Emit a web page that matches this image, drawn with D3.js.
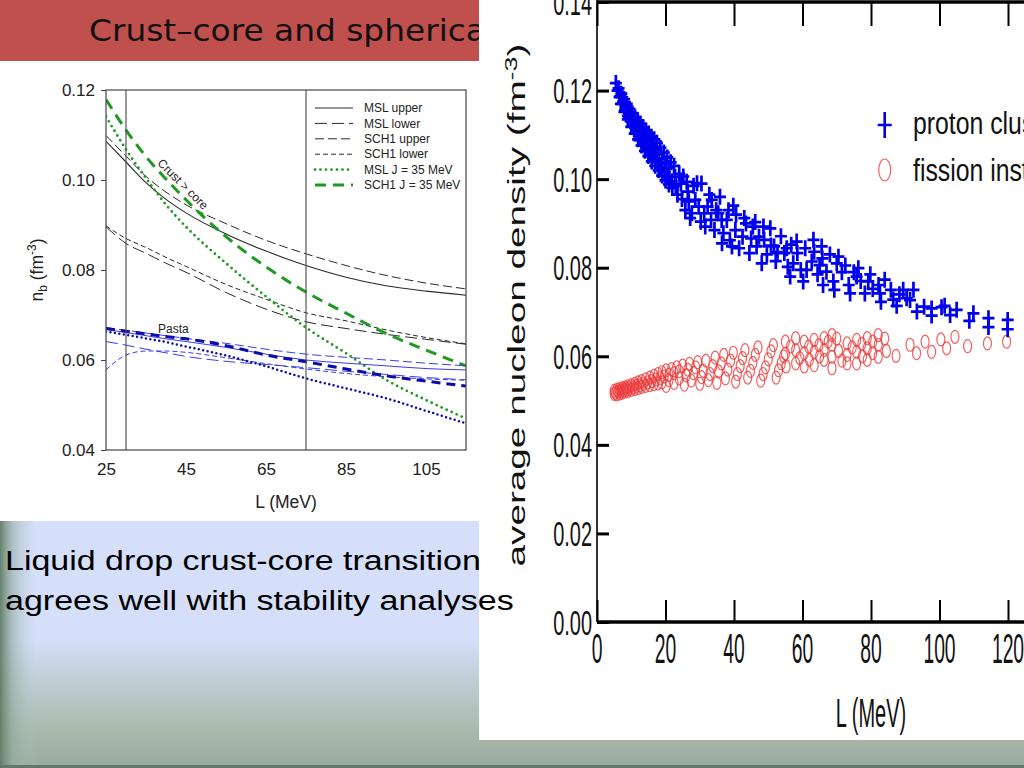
<!DOCTYPE html>
<html><head><meta charset="utf-8">
<script src="https://cdn.jsdelivr.net/npm/d3@7"></script>
<style>html,body{margin:0;padding:0;background:#fff;overflow:hidden}</style>
</head><body>
<svg id="s" width="1024" height="768"></svg>
<script>
// ---------------- DATA ----------------
const titleText = "Crust–core and spherical";
const bodyLines = ["Liquid drop crust-core transition", "agrees well with stability analyses"];

// left chart: n_b vs L
const leftL = [25,30,35,40,45,55,65,75,85,95,105,115];
const mslUpper  = [0.1086,0.1040,0.0994,0.0957,0.0927,0.0880,0.0842,0.0810,0.0784,0.0765,0.0753,0.0744];
const mslLower  = [0.0896,0.0859,0.0837,0.0815,0.0795,0.0750,0.0713,0.0685,0.0670,0.0657,0.0646,0.0635];
const sch1Upper = [0.1099,0.1053,0.1008,0.0973,0.0945,0.0903,0.0866,0.0836,0.0810,0.0788,0.0771,0.0758];
const sch1Lower = [0.0898,0.0870,0.0850,0.0828,0.0808,0.0768,0.0735,0.0705,0.0687,0.0667,0.0650,0.0636];
const mslJ35    = [0.1141,0.1068,0.1004,0.0945,0.0896,0.0815,0.0741,0.0672,0.0615,0.0556,0.0511,0.0470];
const sch1J35   = [0.1179,0.1111,0.1052,0.1002,0.0956,0.0874,0.0807,0.0751,0.0704,0.0659,0.0622,0.0587];
// pasta transition curves
const pastaMslUpper  = [0.0668,0.0661,0.0654,0.0647,0.0641,0.0628,0.0613,0.0600,0.0593,0.0587,0.0581,0.0578];
const pastaSch1Upper = [0.0672,0.0666,0.0660,0.0654,0.0648,0.0637,0.0624,0.0613,0.0606,0.0600,0.0593,0.0587];
const pastaMslLower  = [0.0641,0.0633,0.0624,0.0616,0.0608,0.0597,0.0590,0.0583,0.0575,0.0568,0.0561,0.0556];
const pastaSch1Lower = [0.0578,0.0611,0.0620,0.0620,0.0617,0.0605,0.0592,0.0580,0.0570,0.0563,0.0558,0.0555];
const pastaMslJ35    = [0.0663,0.0656,0.0648,0.0640,0.0630,0.0610,0.0586,0.0559,0.0537,0.0515,0.0487,0.0459];
const pastaSch1J35   = [0.0670,0.0664,0.0658,0.0652,0.0647,0.0632,0.0611,0.0596,0.0580,0.0565,0.0553,0.0542];
const transitionL = [30, 75];
const leftXTicks = [25,45,65,85,105];
const leftYTicks = [0.04,0.06,0.08,0.10,0.12];
const legendLabels = ["MSL upper","MSL lower","SCH1 upper","SCH1 lower","MSL J = 35 MeV","SCH1 J = 35 MeV"];

// right chart: average nucleon density vs L
const protonClusters = [
 [5.5,0.1217],[6.3,0.1205],[7.1,0.1193],[7.9,0.1181],[8.7,0.1170],[9.5,0.1159],[10.3,0.1149],[11.1,0.1140],[11.9,0.1133],[12.7,0.1125],[13.5,0.1117],[14.3,0.1110],[15.1,0.1103],[15.9,0.1096],[16.7,0.1090],[17.5,0.1082],[18.5,0.1071],[19.5,0.1060],[20.5,0.1049],[21.5,0.1038],
 [6.0,0.1200],[6.8,0.1187],[7.6,0.1175],[8.4,0.1163],[9.2,0.1151],[10.0,0.1140],[10.8,0.1130],[11.6,0.1120],[12.4,0.1112],[13.2,0.1103],[14.0,0.1095],[14.8,0.1088],[15.6,0.1080],[16.4,0.1073],[17.2,0.1066],[18.0,0.1058],[19.0,0.1047],[20.0,0.1036],[21.0,0.1025],
 [6.6,0.1185],[7.4,0.1170],[8.2,0.1156],[9.0,0.1143],[9.8,0.1131],[10.6,0.1120],[11.4,0.1109],[12.2,0.1098],[13.0,0.1088],[13.8,0.1079],[14.6,0.1071],[15.4,0.1063],[16.2,0.1055],[17.0,0.1046],[17.8,0.1038],[18.8,0.1027],[19.8,0.1016],[20.8,0.1005],[21.8,0.0995],
 [7.0,0.1170],[8.0,0.1152],[9.0,0.1135],[10.0,0.1118],[11.0,0.1103],[12.0,0.1090],[13.0,0.1076],[14.0,0.1064],[15.0,0.1052],[16.0,0.1040],[17.0,0.1030],[18.0,0.1020],[19.0,0.1008],[20.0,0.0997],[21.0,0.0988],[22.0,0.0980],
 [22.5,0.1030],[22.8,0.1005],[23.0,0.0985],[23.5,0.0965],[24.0,0.1012],[24.5,0.0990],[24.8,0.0955],[25.2,0.1006],[25.8,0.0930],[26.2,0.0994],[26.5,0.0972],[26.8,0.0950],[27.2,0.0912],[27.7,0.0923],[28.2,0.0985],[28.7,0.0953],[29.2,0.0991],[29.7,0.0938],[30.3,0.0904],[30.5,0.0990],
 [31.3,0.0923],[31.6,0.0893],[32.3,0.0938],[32.8,0.0965],[33.3,0.0908],[33.5,0.0953],[34.3,0.0885],[34.8,0.0930],[35.4,0.0923],[35.9,0.0960],[36.4,0.0908],[36.5,0.0855],[36.9,0.0878],[37.9,0.0908],[38.4,0.0930],[38.8,0.0862],[39.4,0.0848],[39.8,0.0940],[40.4,0.0885],[40.6,0.0920],
 [41.5,0.0844],[42.5,0.0870],[43.0,0.0912],[43.5,0.0900],[44.5,0.0833],[45.0,0.0866],[45.5,0.0893],[46.2,0.0903],[46.6,0.0848],[47.3,0.0870],[48.1,0.0810],[48.6,0.0893],[48.8,0.0863],[49.6,0.0830],[50.6,0.0889],[50.8,0.0850],
 [51.7,0.0848],[52.2,0.0815],[52.7,0.0835],[53.7,0.0871],[54.7,0.0833],[55.4,0.0844],[55.7,0.0802],[56.4,0.0780],[56.7,0.0852],[57.3,0.0810],[58.3,0.0859],[58.5,0.0833],[59.5,0.0795],[60.2,0.0769],[60.8,0.0844],[61.2,0.0795],
 [62.7,0.0814],[63.2,0.0863],[63.4,0.0836],[64.4,0.0785],[65.0,0.0806],[65.6,0.0848],[65.8,0.0821],[66.0,0.0761],[67.0,0.0791],[68.0,0.0830],[69.0,0.0769],[69.3,0.0750],[70.0,0.0810],[70.5,0.0825],
 [71.5,0.0790],[72.5,0.0805],[73.5,0.0761],[73.9,0.0742],[75.0,0.0790],[75.8,0.0780],[76.3,0.0799],[77.0,0.0770],[78.2,0.0742],[79.2,0.0769],[79.8,0.0785],[80.5,0.0752],
 [82.2,0.0761],[82.6,0.0742],[82.9,0.0723],[84.0,0.0773],[85.8,0.0750],[86.5,0.0728],[87.5,0.0714],[88.3,0.0740],[89.4,0.0750],[90.4,0.0731],
 [91.4,0.0727],[92.4,0.0750],[93.4,0.0701],[95.5,0.0712],[97.7,0.0708],[97.7,0.0692],[100.6,0.0711],[101.5,0.0714],[103.1,0.0693],[105.0,0.0705],[108.7,0.0680],[109.9,0.0697],[114.3,0.0686],[114.3,0.0666],[119.9,0.0682],[119.9,0.0661]
];
const fissionInstability = [
 [5.0,0.0515],[5.0,0.0522],[5.4,0.0518],[5.8,0.0514],[5.8,0.0524],[6.2,0.0520],[6.6,0.0516],[6.6,0.0526],[7.0,0.0522],[7.4,0.0518],[7.4,0.0528],[7.8,0.0524],[8.2,0.0520],[8.2,0.0530],[8.6,0.0526],[9.0,0.0522],[9.0,0.0532],[9.5,0.0528],[10.0,0.0524],[10.0,0.0535],[10.5,0.0530],[11.0,0.0526],[11.0,0.0538],[11.5,0.0533],[12.0,0.0528],[12.0,0.0541],[12.5,0.0535],
 [13.0,0.0531],[13.0,0.0544],[13.6,0.0538],[14.2,0.0533],[14.2,0.0548],[14.8,0.0541],[15.4,0.0535],[15.4,0.0552],[16.0,0.0544],[16.6,0.0537],[16.6,0.0556],[17.2,0.0548],[17.8,0.0539],[17.8,0.0560],[18.4,0.0551],[19.0,0.0541],[19.0,0.0564],[19.6,0.0554],[20.2,0.0533],[20.2,0.0568],
 [21.0,0.0546],[21.0,0.0558],[21.8,0.0571],[22.5,0.0540],[22.5,0.0562],[23.3,0.0575],[24.0,0.0550],[24.0,0.0566],[25.0,0.0579],[25.5,0.0536],[26.0,0.0557],[26.5,0.0570],[27.0,0.0583],[27.5,0.0545],[28.2,0.0562],[28.8,0.0575],[29.4,0.0587],[30.0,0.0538],[30.5,0.0553],[31.0,0.0567],
 [31.8,0.0590],[32.5,0.0546],[33.0,0.0560],[33.8,0.0578],[34.5,0.0597],[35.0,0.0540],[35.5,0.0566],[36.3,0.0584],[37.0,0.0603],[37.5,0.0550],[38.2,0.0570],[39.0,0.0590],[39.8,0.0608],[40.5,0.0543],[41.0,0.0560],
 [41.8,0.0578],[42.5,0.0596],[43.2,0.0614],[44.0,0.0552],[44.8,0.0567],[45.5,0.0585],[46.2,0.0603],[47.0,0.0620],[47.8,0.0545],[48.5,0.0560],[49.2,0.0575],[50.0,0.0593],[50.8,0.0611],[51.5,0.0625],[52.3,0.0552],[53.0,0.0568],[53.8,0.0584],[54.5,0.0600],[55.0,0.0633],[55.0,0.0606],[55.2,0.0577],
 [56.5,0.0622],[58.0,0.0641],[58.0,0.0614],[58.0,0.0584],[59.2,0.0596],[60.5,0.0633],[60.5,0.0607],[60.5,0.0577],[61.8,0.0622],[62.0,0.0592],[63.4,0.0637],[63.4,0.0610],[63.4,0.0580],[64.8,0.0625],[65.0,0.0600],[66.3,0.0641],[66.3,0.0614],[66.3,0.0592],[67.5,0.0633],
 [68.6,0.0648],[68.6,0.0626],[68.6,0.0599],[68.6,0.0573],[70.0,0.0640],[70.5,0.0612],[71.5,0.0590],[73.0,0.0629],[73.0,0.0603],[73.0,0.0584],[74.5,0.0620],[75.8,0.0637],[75.8,0.0610],[75.8,0.0584],[77.3,0.0628],[77.5,0.0600],[78.9,0.0641],[78.9,0.0618],[78.9,0.0592],
 [80.5,0.0633],[80.5,0.0607],[82.1,0.0648],[82.1,0.0626],[82.1,0.0599],[84.0,0.0640],[84.5,0.0612],
 [87.3,0.0601],[91.4,0.0626],[93.3,0.0607],[95.8,0.0633],[97.7,0.0610],[100.4,0.0638],[102.1,0.0618],[104.5,0.0644],[108.2,0.0623],[114.0,0.0629],[119.6,0.0633]
];
const rightXTicks = [0,20,40,60,80,100,120];
const rightYTicks = [0,0.02,0.04,0.06,0.08,0.10,0.12,0.14];
const rightLegend = ["proton clusters","fission instability"];

// ---------------- DRAW ----------------
const svg = d3.select('#s');
const defs = svg.append('defs');
const gl = defs.append('linearGradient').attr('id','gLeft').attr('x1',0).attr('x2',1).attr('y1',0).attr('y2',0);
gl.append('stop').attr('offset',0).attr('stop-color','#5f7d62').attr('stop-opacity',0.95);
gl.append('stop').attr('offset',0.35).attr('stop-color','#8ea59a').attr('stop-opacity',0.55);
gl.append('stop').attr('offset',1).attr('stop-color','#b8c8d8').attr('stop-opacity',0);
const gb = defs.append('linearGradient').attr('id','gBot').attr('x1',0).attr('x2',0).attr('y1',0).attr('y2',1);
gb.append('stop').attr('offset',0).attr('stop-color','#a9b9ab').attr('stop-opacity',0);
gb.append('stop').attr('offset',0.7).attr('stop-color','#a9b9ab').attr('stop-opacity',1);
gb.append('stop').attr('offset',1).attr('stop-color','#9aac9d').attr('stop-opacity',1);

svg.append('rect').attr('width',1024).attr('height',768).attr('fill','#d5dff9');
svg.append('rect').attr('x',0).attr('y',640).attr('width',1024).attr('height',128).attr('fill','url(#gBot)');
svg.append('rect').attr('x',0).attr('y',0).attr('width',36).attr('height',768).attr('fill','url(#gLeft)');
svg.append('rect').attr('x',0).attr('y',765).attr('width',1024).attr('height',3).attr('fill','#63796a');

// title banner
svg.append('rect').attr('x',0).attr('y',0).attr('width',479).attr('height',61).attr('fill','#c0504d');
const title = svg.append('text').attr('font-family','DejaVu Sans').attr('font-size',30)
  .attr('fill','#111').text(titleText);
{
  const w = title.node().getSubStringLength(0, 23);
  title.attr('transform', `translate(89,41) scale(${397/w},1)`);
}

// ---------- left chart ----------
svg.append('rect').attr('x',0).attr('y',61).attr('width',479).attr('height',460).attr('fill','#fff');
const xL = d3.scaleLinear().domain([25,115]).range([106,466]);
const yL = d3.scaleLinear().domain([0.04,0.12]).range([450,90]);
const L = svg.append('g').attr('font-family','Liberation Sans, Arial, sans-serif');

const axL = L.append('g').attr('transform',`translate(${xL(25)},0)`)
  .call(d3.axisLeft(yL).tickValues(leftYTicks).tickFormat(d3.format('.2f')).tickSize(5).tickPadding(6));
axL.select('.domain').remove();
axL.selectAll('line').attr('stroke','#444');
axL.selectAll('text').attr('font-size',17).attr('fill','#222').attr('font-family','Liberation Sans, Arial, sans-serif');
const axB = L.append('g').attr('transform',`translate(0,${yL(0.04)})`)
  .call(d3.axisBottom(xL).tickValues(leftXTicks).tickFormat(d3.format('d')).tickSize(0).tickPadding(13));
axB.select('.domain').remove();
axB.selectAll('text').attr('font-size',17).attr('fill','#222').attr('font-family','Liberation Sans, Arial, sans-serif');

L.append('text').attr('x',(xL(25)+xL(115))/2).attr('y',508).attr('text-anchor','middle')
  .attr('font-size',17.5).attr('fill','#222').text('L (MeV)');
const yl = L.append('text').attr('transform',`translate(43,${(yL(0.04)+yL(0.12))/2}) rotate(-90)`)
  .attr('text-anchor','middle').attr('font-size',17.5).attr('fill','#222');
yl.append('tspan').text('n');
yl.append('tspan').attr('dy',4).attr('font-size',12).text('b');
yl.append('tspan').attr('dy',-4).text(' (fm');
yl.append('tspan').attr('dy',-7).attr('font-size',12).text('-3');
yl.append('tspan').attr('dy',7).text(')');

// plot content
const clip = defs.append('clipPath').attr('id','clipL');
clip.append('rect').attr('x',xL(25)).attr('y',yL(0.12)).attr('width',xL(115)-xL(25)).attr('height',yL(0.04)-yL(0.12));
const P = L.append('g').attr('clip-path','url(#clipL)');
const lineL = d3.line().x((d,i)=>xL(leftL[i])).y(d=>yL(d)).curve(d3.curveMonotoneX);
const black = '#2a2a2a', green = '#1e9a22', blueThin = '#3c3cf0', blueDark = '#0c0ca8';
const leftSeries = [
  {v: mslUpper,  c: black, w: 1.1, dash: null},
  {v: mslLower,  c: black, w: 1.0, dash: '12,5'},
  {v: sch1Upper, c: black, w: 1.0, dash: '9,4'},
  {v: sch1Lower, c: black, w: 1.0, dash: '5,3'},
  {v: mslJ35,    c: green, w: 2.8, dash: '0,5.5', cap: 'round'},
  {v: sch1J35,   c: green, w: 3.0, dash: '11,7'},
  {v: pastaMslUpper,  c: blueThin, w: 1.0, dash: null},
  {v: pastaMslLower,  c: blueThin, w: 1.0, dash: '12,5'},
  {v: pastaSch1Upper, c: blueThin, w: 1.0, dash: '9,4'},
  {v: pastaSch1Lower, c: blueThin, w: 1.0, dash: '5,3'},
  {v: pastaMslJ35,    c: blueDark, w: 2.5, dash: '0,4.5', cap: 'round'},
  {v: pastaSch1J35,   c: blueDark, w: 3.0, dash: '9,6'}
];
P.selectAll('path.curve').data(leftSeries).join('path').attr('class','curve')
  .attr('d', s => lineL(s.v)).attr('fill','none').attr('stroke', s => s.c)
  .attr('stroke-width', s => s.w).attr('stroke-dasharray', s => s.dash)
  .attr('stroke-linecap', s => s.cap || 'butt');
L.selectAll('line.trans').data(transitionL).join('line').attr('class','trans')
  .attr('x1',d=>xL(d)).attr('x2',d=>xL(d)).attr('y1',yL(0.12)).attr('y2',yL(0.04))
  .attr('stroke','#555').attr('stroke-width',1.2);
L.append('rect').attr('x',xL(25)).attr('y',yL(0.12)).attr('width',xL(115)-xL(25)).attr('height',yL(0.04)-yL(0.12))
  .attr('fill','none').attr('stroke','#444').attr('stroke-width',1.2);

// legend
const lg = L.append('g');
const lgRows = lg.selectAll('g').data(legendLabels).join('g')
  .attr('transform',(d,i)=>`translate(315,${108 + i*15.4})`);
lgRows.append('line').attr('x1',0).attr('x2',38).attr('y1',0).attr('y2',0)
  .attr('stroke',(d,i)=>leftSeries[i].c).attr('stroke-width',(d,i)=>leftSeries[i].w)
  .attr('stroke-dasharray',(d,i)=>leftSeries[i].dash).attr('stroke-linecap',(d,i)=>leftSeries[i].cap||'butt');
lgRows.append('text').attr('x',49).attr('dy','0.35em').attr('font-size',12).attr('fill','#222').text(d=>d);

L.append('text').attr('transform','translate(183,184) rotate(45)').attr('text-anchor','middle')
  .attr('dy','0.35em').attr('font-size',12).attr('fill','#222').text('Crust > core');
L.append('text').attr('x',158).attr('y',333).attr('font-size',12).attr('fill','#222').text('Pasta');

// ---------- right chart ----------
svg.append('rect').attr('x',479).attr('y',0).attr('width',545).attr('height',740).attr('fill','#fff');
const xR = d3.scaleLinear().domain([0,120]).range([597,1008]);
const yR = d3.scaleLinear().domain([0,0.14]).range([622,2]);
const R = svg.append('g').attr('font-family','Liberation Sans, Arial, sans-serif');

R.selectAll('ellipse.fi').data(fissionInstability).join('ellipse').attr('class','fi')
  .attr('cx',d=>xR(d[0])).attr('cy',d=>yR(d[1])).attr('rx',4).attr('ry',6.5)
  .attr('fill','none').attr('stroke','#ee3a3a').attr('stroke-width',1.2).attr('stroke-opacity',0.8);
R.selectAll('path.pc').data(protonClusters).join('path').attr('class','pc')
  .attr('d',d=>`M${xR(d[0])-6},${yR(d[1])}h12M${xR(d[0])},${yR(d[1])-8}v16`)
  .attr('stroke','#0000ee').attr('stroke-width',2.7).attr('fill','none');

// axes
const axRB = R.append('g').attr('transform',`translate(0,${yR(0)})`)
  .call(d3.axisBottom(xR).tickValues(rightXTicks).tickSize(-22).tickFormat(''));
const axRT = R.append('g').attr('transform',`translate(0,${yR(0.14)})`)
  .call(d3.axisTop(xR).tickValues(rightXTicks).tickSize(-24).tickFormat(''));
const axRL = R.append('g').attr('transform',`translate(${xR(0)},0)`)
  .call(d3.axisLeft(yR).tickValues(rightYTicks).tickSize(-12).tickFormat(''));
[axRB, axRT, axRL].forEach(a => { a.select('.domain').remove(); a.selectAll('line').attr('stroke','#000'); });
axRB.selectAll('line').attr('stroke-width',2);
axRT.selectAll('line').attr('stroke-width',2);
axRL.selectAll('line').attr('stroke-width',3);
R.append('line').attr('x1',xR(0)).attr('x2',1024).attr('y1',yR(0)).attr('y2',yR(0)).attr('stroke','#000').attr('stroke-width',3.5);
R.append('line').attr('x1',xR(0)).attr('x2',1024).attr('y1',yR(0.14)).attr('y2',yR(0.14)).attr('stroke','#000').attr('stroke-width',3.5);
R.append('line').attr('x1',xR(0)).attr('x2',xR(0)).attr('y1',0).attr('y2',yR(0)).attr('stroke','#000').attr('stroke-width',1.6);

// tick labels (condensed)
R.selectAll('text.yt').data(rightYTicks).join('text').attr('class','yt')
  .attr('transform',d=>`translate(592,${yR(d)}) scale(0.57,1)`).attr('text-anchor','end').attr('dy','0.36em')
  .attr('font-size',35).attr('fill','#111').text(d3.format('.2f'));
R.selectAll('text.xt').data(rightXTicks).join('text').attr('class','xt')
  .attr('transform',d=>`translate(${xR(d)},663) scale(0.46,1)`).attr('text-anchor','middle')
  .attr('font-size',42).attr('fill','#111').text(d3.format('d'));
R.append('text').attr('transform',`translate(${xR(80)},727) scale(0.5,1)`).attr('text-anchor','middle')
  .attr('font-size',40).attr('fill','#111').text('L (MeV)');

// y label (stretched)
const ryl = R.append('text').attr('text-anchor','middle').attr('font-size',23).attr('fill','#111');
ryl.append('tspan').text('average nucleon density (fm');
ryl.append('tspan').attr('dy',-8).attr('font-size',16).text('-3');
ryl.append('tspan').attr('dy',8).text(')');
{
  const w = ryl.node().getComputedTextLength();
  ryl.attr('transform',`translate(525,305) rotate(-90) scale(${523/w},1)`);
}

// legend
const rl = R.append('g');
rl.append('path').attr('d',`M${xR(84)-7},125h14M${xR(84)},112v26`).attr('stroke','#0000ee').attr('stroke-width',2.6);
rl.append('ellipse').attr('cx',xR(84)).attr('cy',170).attr('rx',6).attr('ry',11).attr('fill','none')
  .attr('stroke','#f06060').attr('stroke-width',1.2);
rl.selectAll('text').data(rightLegend).join('text')
  .attr('transform',(d,i)=>`translate(913,${134 + i*47}) scale(0.8,1)`)
  .attr('font-size',31).attr('fill','#111').text(d=>d);

// ---------- body text ----------
const bt = svg.append('g').attr('font-family','Liberation Sans, Arial, sans-serif');
const targetW = [476, 509];
bodyLines.forEach((t,i)=>{
  const el = bt.append('text').attr('font-size',28).attr('fill','#000').text(t);
  const w = el.node().getComputedTextLength();
  el.attr('transform',`translate(5,${570 + i*40}) scale(${targetW[i]/w},1)`);
});
</script>
</body></html>
